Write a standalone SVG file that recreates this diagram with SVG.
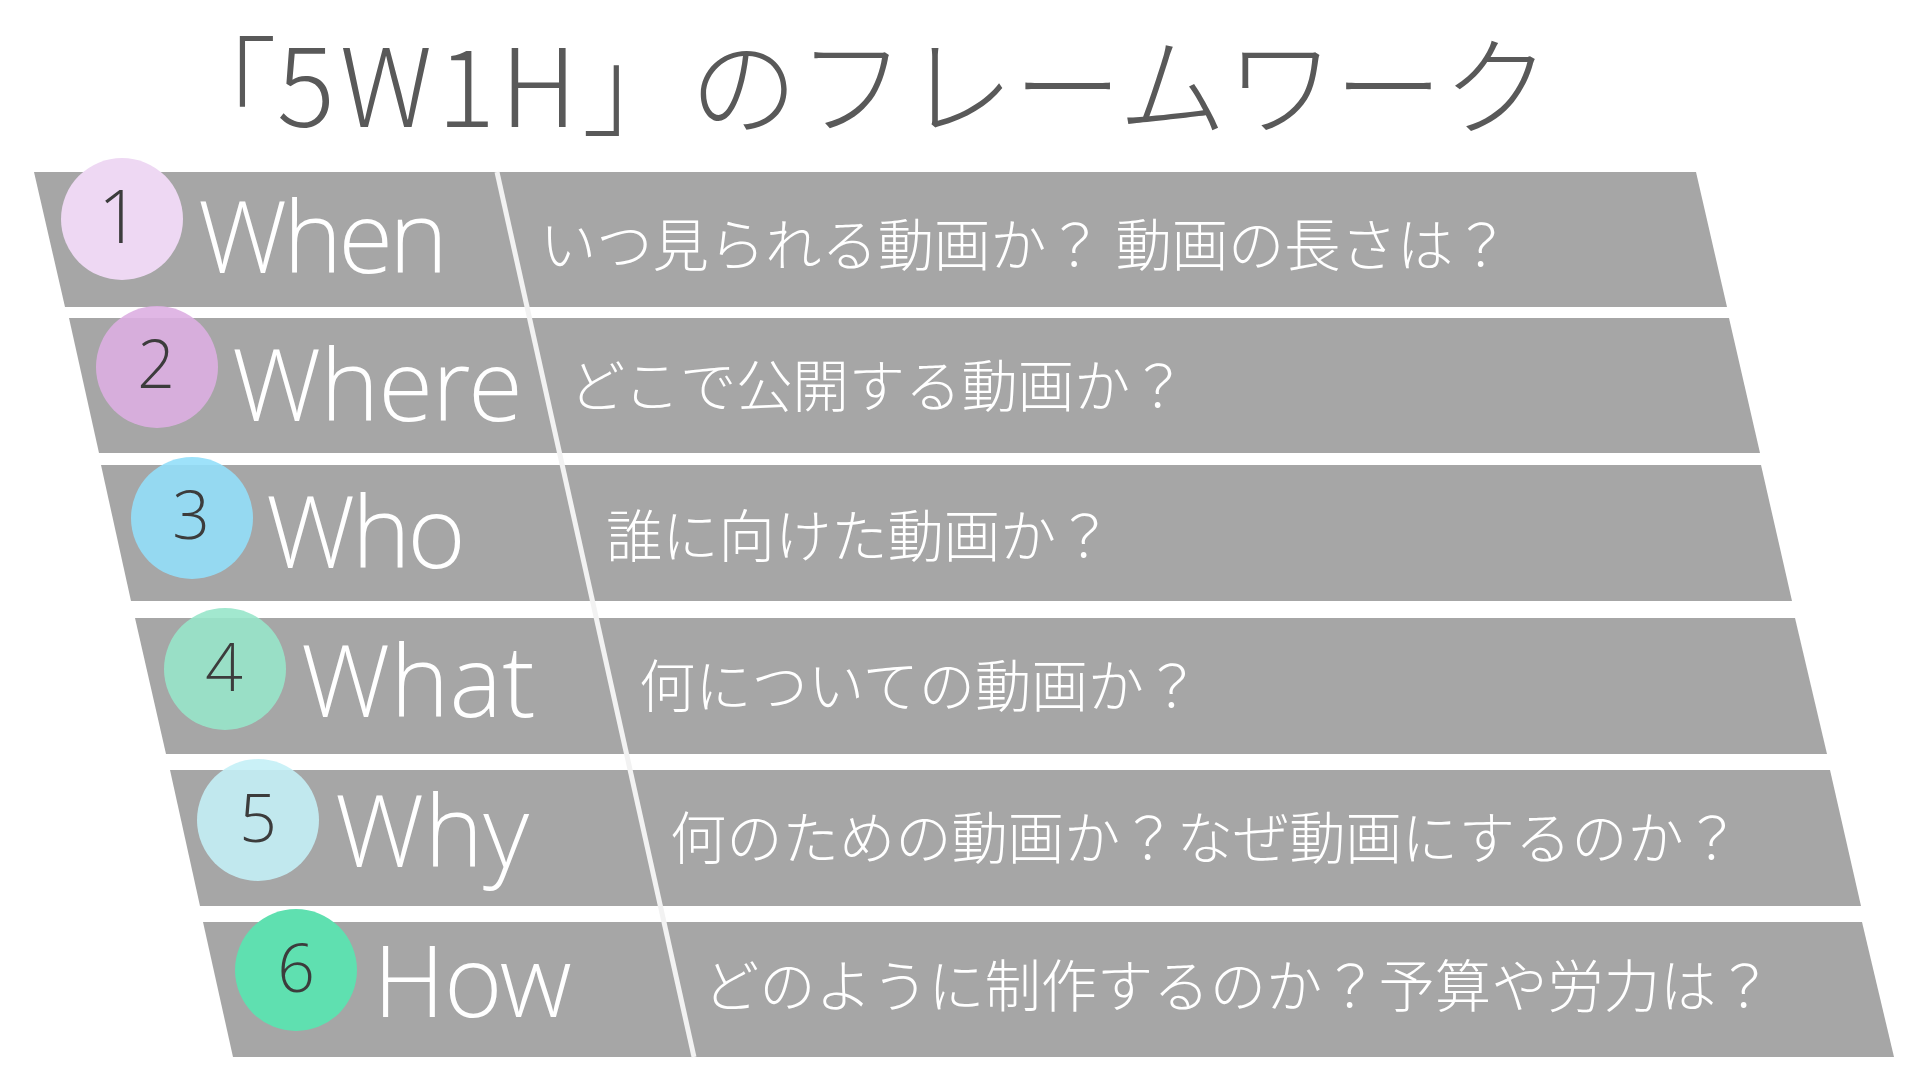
<svg xmlns="http://www.w3.org/2000/svg" width="1920" height="1080" viewBox="0 0 1920 1080">
<style>
.band{fill:#A6A6A6}
.num{font-family:"Open Sans Light","Open Sans","Liberation Sans",sans-serif;font-weight:300;fill:#3C3C3C;text-anchor:middle}
.lbl{font-family:"Open Sans Light","Open Sans","Liberation Sans",sans-serif;font-weight:300;font-size:100px;fill:#FFFFFF}
.desc{font-family:"Noto Sans CJK JP Light","Noto Sans CJK JP","Noto Sans CJK SC",sans-serif;font-weight:300;font-size:56.3px;fill:#FFFFFF}
.title{font-family:"Noto Sans CJK JP Light","Noto Sans CJK JP","Noto Sans CJK SC",sans-serif;font-weight:300;font-size:108px;fill:#595959}
.divider{stroke:#F2F2F2;stroke-width:5;fill:none}
</style>
<rect x="0" y="0" width="1920" height="1080" fill="#FFFFFF"/>
<g id="title"><text class="title" x="169" y="127">「<tspan letter-spacing="5">5W1H</tspan>」のフレームワーク</text></g>
<g id="node-when">
<polygon class="band" points="34,172 1696,172 1727,307 65,307"/>
</g>
<g id="node-where">
<polygon class="band" points="69,318 1729,318 1760,453 99,453"/>
</g>
<g id="node-who">
<polygon class="band" points="101,465 1761,465 1792,601 131,601"/>
</g>
<g id="node-what">
<polygon class="band" points="135,618 1795,618 1827,754 166,754"/>
</g>
<g id="node-why">
<polygon class="band" points="170,770 1830,770 1861,906 200,906"/>
</g>
<g id="node-how">
<polygon class="band" points="203,922 1862,922 1894,1057 233,1057"/>
</g>
<g id="connectors">
<line class="divider" x1="497" y1="172" x2="694" y2="1057"/>
</g>
<g id="node-when-content">
<circle cx="122" cy="219" r="61" fill="#EED8F3"/>
<text class="num" x="119" y="243" font-size="74">1</text>
<text class="lbl" x="198" y="273" letter-spacing="-4">When</text>
<text class="desc" x="540" y="266">いつ見られる動画か？ 動画の長さは？</text>
</g>
<g id="node-where-content">
<circle cx="157" cy="367" r="61" fill="#DDAFE2" fill-opacity="0.9"/>
<text class="num" x="156" y="388" font-size="66">2</text>
<text class="lbl" x="232" y="421" letter-spacing="-1">Where</text>
<text class="desc" x="569" y="407">どこで公開する動画か？</text>
</g>
<g id="node-who-content">
<circle cx="192" cy="518" r="61" fill="#94DFF9" fill-opacity="0.9"/>
<text class="num" x="191" y="539" font-size="66">3</text>
<text class="lbl" x="266" y="568" letter-spacing="-3.5">Who</text>
<text class="desc" x="606" y="557">誰に向けた動画か？</text>
</g>
<g id="node-what-content">
<circle cx="225" cy="669" r="61" fill="#98E5CA" fill-opacity="0.9"/>
<text class="num" x="224" y="691" font-size="66">4</text>
<text class="lbl" x="301" y="717">What</text>
<text class="desc" x="639" y="707">何についての動画か？</text>
</g>
<g id="node-why-content">
<circle cx="258" cy="820" r="61" fill="#C4F0F6" fill-opacity="0.9"/>
<text class="num" x="258" y="842" font-size="66">5</text>
<text class="lbl" x="335" y="867">Why</text>
<text class="desc" x="670" y="859">何のための動画か？なぜ動画にするのか？</text>
</g>
<g id="node-how-content">
<circle cx="296" cy="970" r="61" fill="#5FE0B0"/>
<text class="num" x="296" y="992" font-size="66">6</text>
<text class="lbl" x="373" y="1017" letter-spacing="-1">How</text>
<text class="desc" x="703" y="1007">どのように制作するのか？予算や労力は？</text>
</g>
</svg>
